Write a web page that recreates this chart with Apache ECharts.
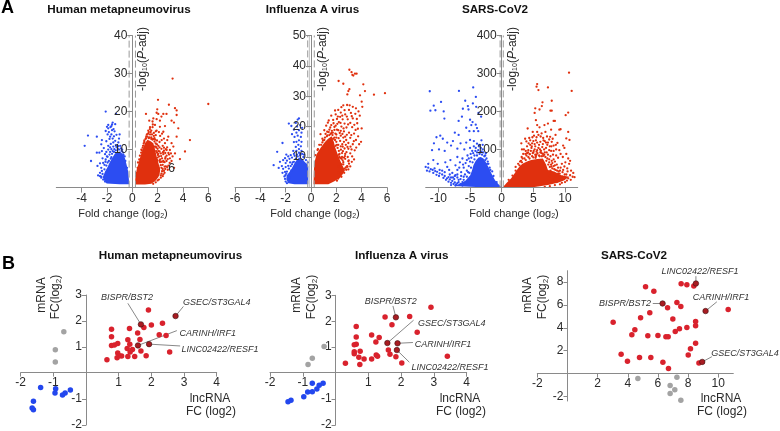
<!DOCTYPE html>
<html><head><meta charset="utf-8">
<style>html,body{margin:0;padding:0;background:#fff}#c{width:780px;height:431px}</style>
<script src="https://cdn.jsdelivr.net/npm/echarts@6/dist/echarts.min.js"></script>
</head><body><div id="c"></div>
<script>
// ---- Panel A: volcano data, read by eye. "Core" = outline of the solid-filled dense area.
const hmpvRedCore=[[0.21,0.8],[0.24,2.5],[0.34,4.6],[0.5,6.5],[0.6,7.7],[0.8,9.8],[1.0,11.7],[1.2,12.6],[1.45,12.2],[1.66,11.7],[1.8,10],[1.92,8.2],[2.1,6],[2.2,4.6],[2.15,3.4],[2.05,2.7],[1.8,1.7],[1.5,1.0],[1.0,0.8]];
const hmpvRedPts=[[6.0,22.0],[3.18,28.7],[2.03,23.1],[2.89,21.8],[3.37,20.9],[3.5,20.3],[3.5,19.1],[1.08,19.4],[1.97,20.6],[1.92,19.7],[2.05,19.4],[2.45,19.4],[2.7,19.4],[2.3,18.7],[1.66,18.2],[1.34,17.6],[1.6,17.4],[1.92,18],[2.18,17.6],[3.1,17.6],[3.29,17.1],[2.58,16.2],[3.63,15.6],[2.18,16],[1.79,16.5],[1.39,15.4],[1.92,15],[1.26,15],[2.45,14.7],[4.55,12.5],[4.16,9.5],[3.76,7.5],[3.37,9],[3.18,8.2],[2.97,7.7],[3.5,13.4],[2.84,13.4],[2.76,12.5],[3.1,11.7],[3.24,10.8],[2.32,12.5],[2.58,11.7],[2.71,9.9],[2.97,9.9],[2.45,8.8],[2.71,8.4],[3.1,7],[2.3,10.2],[2.05,11],[2.2,13.6],[1.85,13.8],[1.6,15.9],[1.45,14.6],[2.1,14.6],[2.55,6.7],[2.85,5.8],[2.4,6],[2.6,4.9],[2.2,7.4],[2.05,9.6],[2.35,7.7],[2.95,6.5],[2.6,7.6],[3.3,5.2],[2.8,4.7],[2.35,4.3],[2.05,5.6],[1.75,13],[1.3,13],[1.5,13.2],[1.15,14],[1.7,14.4],[1.95,12.4],[2.15,12],[2.4,11],[2.75,10.6],[1.85,10.8],[1.95,9.2],[2.25,9],[2.5,9.7],[2.15,10.6],[1.08,13],[1.25,14.2],[0.95,12.4],[1.95,6.7],[2.3,5.2],[2.55,3.9],[2.0,7.9],[2.65,5.6],[2.45,3.5],[2.25,3.2],[2.9,8.7],[3.05,9],[1.65,12.8],[1.55,14],[1.85,14.8],[2.5,12.9],[2.35,14.2],[0.75,9.8],[0.6,8.4],[0.45,6.6],[0.32,3.8],[0.85,11],[1.4,15.9],[1.62,16.6]];
const hmpvRedEdge=[[0.3,3],[0.42,5.2],[0.55,7.4],[0.7,9.2],[0.82,10.5],[0.95,12],[1.05,12.8],[1.2,13.4],[1.35,13.2],[1.5,12.8],[1.6,12.6],[1.75,12.1],[1.85,11.6],[1.9,10.5],[2,10.2],[2.02,8.6],[2.12,8.2],[2.2,6.7],[2.32,6.8],[2.3,3.7],[2.4,4.9],[2.25,2.6],[2.1,2.1],[2,1.9],[1.85,1.4],[1.65,1],[2.45,7],[2.15,9.5],[1.95,11.4],[1.7,13.6],[1.4,14],[1.1,13.5],[2.6,9.1],[2.85,9.1],[2.5,10.5],[2.65,10.1],[2.45,6.8],[2.7,7],[2.55,5.5],[2.75,5.4],[2.4,3],[2.5,4.4],[1.8,12.6],[2.05,8.9],[2.15,7],[2.25,5.9],[2.1,5.1],[1.98,7.2],[1.88,9.6],[1.75,10.8],[2.28,8.3],[2.42,9.3],[2.62,8],[2.8,7.5],[1.5,15],[1.3,14.6],[0.9,11.6],[0.72,10]];
const hmpvBlueCore=[[-0.24,0.9],[-0.28,2.5],[-0.32,4.2],[-0.45,6],[-0.58,7.7],[-0.75,8.8],[-0.97,9.5],[-1.2,9.3],[-1.37,9],[-1.55,8],[-1.76,6.8],[-1.95,5.4],[-2.16,4.2],[-2.25,3.4],[-2.34,2.7],[-2.2,1.8],[-2.03,1.1],[-1.0,0.9]];
const hmpvBluePts=[[-2.1,20],[-1.29,19.4],[-1.55,17.1],[-1.9,16.5],[-1.6,16.6],[-1.9,15.6],[-1.72,15.9],[-3.5,13.7],[-3.76,11],[-3.26,7],[-2.8,13.4],[-2.8,9.2],[-2.6,9.2],[-2.4,12.5],[-2.45,11.4],[-2.1,14.9],[-1.85,14.6],[-1.65,14],[-1.45,13.5],[-1.25,13.9],[-1.0,14],[-1.55,12.9],[-1.8,12.8],[-2.05,12.2],[-1.35,12.3],[-1.1,11.9],[-1.7,11.5],[-1.9,11],[-2.25,10.4],[-2.4,9.6],[-1.5,10.8],[-1.25,10.7],[-1.9,10],[-1.65,10.1],[-2.15,8.8],[-2.35,7.7],[-2.1,7.4],[-2.55,6.4],[-2.75,5.7],[-2.45,5.2],[-2.3,6.5],[-2.0,8.2],[-1.8,8.7],[-1.55,9.6],[-1.95,6.6],[-2.55,3.9],[-2.7,3.2],[-2.45,2.9],[-1.4,14.8],[-1.6,15.1],[-1.75,13.4],[-1.15,10.2],[-2.05,9.4],[-1.65,16.2],[-1.48,15.4],[-1.35,16.7],[-2.0,16],[-1.95,14],[-0.9,10.3],[-0.6,8.2]];
const hmpvBlueEdge=[[-0.42,5.2],[-0.55,7],[-0.7,8.6],[-0.85,9.6],[-1.05,10],[-1.3,9.8],[-1.45,9.4],[-1.65,8],[-1.85,7],[-2.05,5.8],[-2.2,4.8],[-2.35,3.6],[-2.45,2.6],[-2.3,2.1],[-2.15,1.6],[-1.7,7.6],[-1.42,10.1],[-1.1,10.9],[-1.75,9.4],[-1.95,8.1],[-2.2,6],[-2.4,4.4],[-2.55,3],[-2.12,6.8],[-1.6,8.9],[-1.3,11.2],[-1.05,12.9],[-1.5,11.9],[-1.75,10.6],[-0.8,10],[-0.95,11],[-0.72,9.2]];

const fluRedCore=[[0.2,1],[0.22,4],[0.24,6.7],[0.32,9],[0.45,11],[0.75,13],[1.1,14.9],[1.35,16],[1.63,16.8],[1.8,15],[1.9,13.3],[2.1,11],[2.29,8.9],[2.5,7],[2.68,5.6],[2.5,4.3],[2.29,3.2],[1.85,2],[1.37,1]];
const fluRedPts=[[3.03,38.7],[3.2,37.9],[3.6,37.4],[3.34,36.8],[3.47,37.4],[3.27,37],[2.18,35],[2.55,34.1],[4.13,33.9],[3.03,32.3],[2.95,31.7],[4.26,31.7],[2.87,30.6],[5.84,31],[4.97,30.5],[3.87,30.3],[4.0,28.2],[2.55,27],[2.4,26.4],[2.85,27.1],[3.05,27],[3.3,26.5],[3.55,26],[2.15,25.5],[1.9,25.3],[2.65,25.4],[3.0,25.5],[4.05,26.5],[3.75,25],[1.6,23.6],[1.95,24],[2.35,24.6],[2.7,24],[3.15,24.5],[3.5,24.2],[3.85,23.6],[2.3,23.2],[2.05,22.5],[2.5,22.4],[2.9,22.4],[3.3,22.7],[1.4,22],[1.75,22.2],[2.2,21.5],[2.65,21],[3.1,21.2],[3.65,21.1],[4.0,19.4],[1.2,20.3],[1.6,20.5],[1.95,20.3],[2.4,20],[2.8,19.7],[3.25,19.8],[3.7,19.3],[1.05,18.8],[1.45,19],[1.85,18.9],[2.15,18.8],[2.6,18.4],[3.0,18],[3.4,17.7],[0.75,17.5],[0.9,16],[2.0,17.4],[2.35,17],[2.7,16.7],[3.1,16.3],[3.55,15.6],[3.95,15],[3.8,14.2],[2.3,15.3],[2.6,15],[2.95,14.6],[3.3,14.2],[2.35,13.5],[2.65,12.8],[2.95,12.7],[3.2,12.5],[3.45,12.2],[3.1,11.2],[3.25,10.2],[2.7,11],[2.45,11.3],[2.9,10],[3.4,9.2],[2.7,9.4],[2.55,8.3],[3.0,7.8],[2.45,10],[2.2,12],[2.05,14],[1.9,15.6],[1.55,17.6],[1.3,17.1],[1.72,18],[2.25,10],[2.75,6.6],[2.4,6.1],[2.15,5],[0.52,12.3],[0.65,14],[0.95,15.4]];
const fluRedEdge=[[0.35,10.6],[0.55,12.6],[0.8,14],[1.05,15.6],[1.25,16.8],[1.45,17.2],[1.7,17.2],[1.85,16.4],[2,15],[2.1,13],[2.25,11],[2.42,9.4],[2.55,7.6],[2.78,5.8],[2.62,4.8],[2.4,3.5],[2.05,2.2],[2.15,2.9],[2.3,4.5],[2.2,6.8],[2.65,6.2],[2.5,8.9],[2.36,12.4],[2.15,14],[1.65,18.6],[1.4,18.2],[1.15,17.6],[2.18,16.2],[2.5,13.4],[2.8,11.6],[2.95,8.6],[2.85,7],[2.6,9.8],[2.0,16.4],[1.75,16],[1.95,13.7],[2.2,10.7],[2.42,7.6],[2.95,5.9],[3.1,6.9],[1.85,19.9],[2.05,19],[2.35,18.6],[2.55,16.4],[2.75,14],[0.9,14.8],[1.1,16.4],[1.33,21.3],[1.52,19.7],[1.78,21.1],[2.12,23.3],[2.47,23.6],[2.83,23.3],[3.22,23.4],[3.62,22.5],[2.08,20.9],[2.33,21.2],[2.57,19.4],[2.93,20.7],[3.42,20.6],[3.52,18.9],[1.28,18.3],[1.62,17.9],[1.92,17.7],[2.27,17.9],[2.48,17.6],[2.83,17.3],[3.18,17.2],[3.72,16.8],[3.38,15.2],[2.78,15.6],[2.47,14.2],[3.12,13.4],[2.88,13.3],[2.52,11.9],[3.57,13.1],[2.68,10.3],[2.98,8.9],[3.22,8.4],[2.33,9.6],[2.88,6.8]];
const fluBlueCore=[[-0.21,1],[-0.21,4],[-0.21,6.9],[-0.3,7.7],[-0.47,8.3],[-0.7,9.4],[-0.92,9.8],[-1.1,9.2],[-1.26,8.3],[-1.4,7.2],[-1.53,6.1],[-1.7,5.1],[-1.92,3.9],[-1.95,2.6],[-1.8,1.4],[-1.3,1]];
const fluBluePts=[[-0.95,22.7],[-1.05,22.3],[-1.2,21.2],[-1.75,21],[-0.85,20.5],[-1.55,20.2],[-1.1,20],[-0.7,19.6],[-1.35,19],[-0.95,18.8],[-1.15,18],[-0.75,18],[-1.5,17.5],[-1.05,17],[-0.8,16.6],[-1.3,16.6],[-2.25,14.6],[-0.95,15.5],[-1.15,15],[-0.75,15],[-1.35,14.9],[-1.0,14],[-0.8,13.5],[-1.2,13.3],[-2.67,11.7],[-0.95,12.6],[-1.15,12],[-0.75,12],[-1.4,12],[-1.35,11],[-0.85,11],[-1.6,10.6],[-1.8,10.2],[-1.95,10.8],[-2.05,9.6],[-1.7,9.4],[-1.5,9.8],[-1.9,8.8],[-2.0,8],[-2.2,9],[-2.45,8.4],[-2.95,7.3],[-2.3,7],[-2.55,6.4],[-2.2,6.1],[-2.0,6.7],[-1.8,7.1],[-1.65,8.2],[-1.5,7.6],[-2.05,5.1],[-2.25,4.8],[-1.95,4.5],[-2.1,3.6],[-1.3,10.4],[-1.1,10.8]];
const fluBlueEdge=[[-0.25,8.2],[-0.4,9],[-0.6,10],[-0.85,10.5],[-1.05,10.2],[-1.2,9.4],[-1.35,8.4],[-1.45,8.2],[-1.6,7],[-1.75,6.2],[-1.9,5.2],[-2.02,4],[-2.05,2.8],[-2.0,1.9],[-1.9,1.4],[-0.55,10.8],[-0.7,11],[-0.95,11.4],[-1.55,5.6],[-1.7,3.2]];

const sarsRedCore=[[0.15,0],[0.8,12],[1.5,24],[2,36],[2.56,50],[3,58],[3.35,63],[4,68],[4.66,72],[5.6,75],[6.5,76],[7,60],[7.3,46],[8.3,42],[9.4,32],[10,30],[10.7,28],[10.2,23],[9.9,19],[9,13],[8,9],[7.3,6],[6,3],[4.66,0]];
const sarsRedPts=[[10.63,302],[11.05,254],[5.6,272],[5.5,265],[5.8,256],[7.3,263],[7.9,228],[6.44,224],[6.34,214],[5.97,205],[5.3,208],[5.2,196],[7.7,202],[7.9,202],[10.1,190],[10.5,197],[5.4,177],[5.6,164],[8.2,175],[8.4,175],[7.3,168],[4.1,155],[6.75,164],[4.9,146],[5.97,158],[7.8,152],[9.1,152],[9.3,153],[10.5,146],[10.2,129],[10.7,125],[3.1,116],[3.9,121],[4.35,130],[5.1,136],[5.6,146],[5.5,132],[6.3,142],[6.9,146],[7.15,134],[7.65,133],[8.5,138],[9.7,110],[9.9,104],[10.2,88],[10.5,76],[10.8,70],[10.65,62],[11.3,38],[11.2,28],[11.5,27],[10.95,44],[10.4,42],[9.9,55],[9.5,62],[8.9,78],[9.3,88],[8.6,100],[8.8,117],[8.2,110],[7.9,120],[7.5,126],[7,118],[6.6,124],[6.1,120],[5.6,118],[5.0,122],[4.5,112],[4.0,108],[3.5,100],[3.4,88],[4,90],[4.6,96],[5.2,100],[5.8,104],[6.4,106],[7,104],[7.6,108],[8.2,96],[8.6,84],[8.2,74],[7.7,82],[7.1,92],[6.5,88],[5.9,84],[5.3,86],[4.8,82],[4.2,80],[3.6,76],[3.05,70],[8,64],[8.7,60],[9.2,44],[7.5,74],[6.9,80],[5.5,94],[3.7,128],[4.5,124],[9.95,34],[10.3,18],[9.5,12],[8.7,14],[8.2,22],[7.6,30],[8.9,36],[2.6,62],[2.2,54],[6.1,92]];
const sarsRedEdge=[[1.1,20],[1.7,31],[2.2,44],[2.8,58],[3.2,66],[3.8,72],[4.4,76],[5.0,79],[5.4,82],[6.0,82],[6.6,83],[7.2,76],[7.5,66],[7.6,54],[8,50],[8.5,46],[9,42],[9.6,40],[10.2,34],[10.8,32],[10.5,24],[10,14],[9.2,8],[8.4,6],[7.6,3],[6.8,1],[4.4,88],[5,92],[5.6,98],[6.2,96],[6.8,92],[7.3,86],[7.9,70],[8.4,58],[9.3,52],[3.9,84],[3.3,76],[2.9,68],[4.7,104],[5.3,108],[5.9,112],[6.5,114],[7.2,112],[7.8,96],[8.1,86],[4.2,98],[3.8,96],[4.9,90],[5.5,86],[6.3,90],[6.7,100],[7.5,98],[8.4,68],[8.9,52],[8.2,56],[7.8,60],[9.7,46],[5.2,114],[6.8,122],[5.4,124],[4.8,116],[3.15,80],[3.75,88],[4.15,92],[4.45,87],[4.75,108],[5.05,96],[5.35,78],[5.65,90],[6.05,100],[6.35,82],[6.72,86],[7.05,70],[7.35,60],[7.85,55],[8.3,48],[8.75,44],[9.15,36],[9.55,28],[8.55,28],[7.95,38],[7.7,44],[6.55,130],[6.15,134],[7.3,118],[7.85,108],[8.55,112],[5.8,138],[4.85,132],[4.25,116],[3.2,100],[8.05,128],[9.1,98],[9.65,80],[10.05,66],[10.35,50],[10.9,20]];
const sarsBlueCore=[[0,0],[-0.5,8],[-1.05,19],[-1.6,36],[-2.1,54],[-2.5,66],[-2.88,76],[-3.3,80],[-3.66,79],[-4.1,70],[-4.45,59],[-4.7,44],[-4.97,32],[-5.7,18],[-6.5,10.5],[-7.6,4],[-5,2],[-3,0.5]];
const sarsBluePts=[[-11.36,253],[-6.75,254],[-4.5,263],[-4.08,238],[-9.58,225],[-5.76,228],[-10.73,215],[-11.26,202],[-10.47,203],[-9.16,200],[-9.05,181],[-5.34,214],[-6.13,207],[-5.24,205],[-4.55,221],[-4.03,212],[-3.66,196],[-3.25,186],[-6.28,186],[-6.8,175],[-5,178],[-4.6,172],[-4.8,164],[-4.1,165],[-3.9,156],[-5.6,157],[-5.1,148],[-4.4,148],[-3.7,148],[-9.7,136],[-10.3,132],[-9.3,128],[-7.4,144],[-6.8,138],[-8.6,118],[-10.7,116],[-7.7,122],[-6.5,116],[-5.6,118],[-5,125],[-4.4,122],[-3.2,124],[-3.6,108],[-4.4,108],[-5,104],[-5.9,100],[-7,102],[-8,110],[-11,98],[-9.9,100],[-9,96],[-3.0,100],[-2.6,84],[-3.9,92],[-4.9,88],[-5.4,84],[-6.2,76],[-7,80],[-8.1,72],[-8.9,66],[-10.1,62],[-10.8,72],[-11.6,62],[-12,54],[-11.6,52],[-11.2,48],[-10.9,46],[-10.5,43],[-10.2,41],[-9.8,37],[-9.4,34],[-9,30],[-8.64,24],[-8.2,21],[-7.8,17],[-7.4,13],[-7,11],[-6.5,9],[-8.4,27],[-8,26],[-7.5,22],[-7,26],[-6.5,22],[-6,28],[-6.4,40],[-7,46],[-7.8,38],[-6,52],[-5.5,44],[-5.2,56],[-5.7,64],[-5,68],[-4.8,78],[-4.3,84],[-3.4,92],[-9.4,44],[-8.6,54],[-2.2,68],[-1.9,52],[-3.9,115]];
const sarsBlueEdge=[[-0.8,14],[-1.3,30],[-1.8,46],[-2.3,62],[-2.6,72],[-2.75,82],[-3.1,86],[-3.5,88],[-3.9,84],[-4.3,74],[-4.6,66],[-4.85,52],[-5.1,38],[-5.5,28],[-6,20],[-6.8,14],[-7.2,8],[-8,6],[-7.3,5],[-6.2,5],[-3.2,94],[-3.7,98],[-3.3,104],[-2.9,92],[-4.15,96],[-3.55,112],[-4.1,104],[-4.65,96],[-2.4,76],[-2.1,62],[-1.5,42],[-5.3,40],[-5.8,34],[-6.4,30],[-7.3,32],[-7.7,26],[-11.8,44],[-11.4,42],[-10.8,38],[-10.3,33],[-9.9,30],[-9.2,25],[-8.8,20],[-8.4,15],[-8.0,12],[-7.6,9],[-10.6,50],[-9.8,46],[-9.0,40],[-8.2,34],[-7.4,30],[-6.8,20],[-6.2,14],[-5.8,10],[-5.4,14],[-7.0,34],[-6.7,52],[-6.1,60],[-7.3,58],[-8.3,46],[-5.5,72],[-6.6,66],[-4.5,90],[-5.2,76],[-3.0,112],[-2.5,90]];

const hmpvBiRed=[[0.64,0.51],[0.78,1.68],[0.78,1.39],[0.78,1.06],[0.87,1.08],[0.97,1.13],[0.97,0.77],[0.95,0.59],[1.02,0.66],[1.09,0.65],[1.28,1.28],[1.34,1.11],[1.33,1.71],[1.26,0.94],[1.42,0.90],[1.35,0.81],[1.28,0.63],[1.49,0.63],[1.58,1.54],[1.65,1.29],[1.68,0.85],[1.84,0.66],[1.91,2.42],[2.0,1.85],[1.77,1.75],[2.24,1.47],[2.34,1.91],[2.45,1.44],[2.56,0.81]];
const hmpvBiDark=[[1.68,1.87],[2.74,2.19],[1.59,1.06],[1.93,1.11]];
const hmpvBiGray=[[-0.68,1.59],[-0.94,0.89],[-0.94,0.42]];
const hmpvBiBlue=[[-1.39,-0.56],[-0.93,-0.61],[-0.95,-0.77],[-0.72,-0.85],[-0.64,-0.77],[-0.48,-0.65],[-1.61,-1.09],[-1.65,-1.35],[-1.61,-1.41]];
const fluBiRed=[[0.30,0.38],[0.63,1.80],[0.63,1.39],[0.63,1.11],[0.57,1.09],[0.57,0.82],[0.57,0.75],[0.75,0.84],[0.71,0.61],[0.74,0.33],[0.87,0.54],[1.10,1.47],[1.10,0.54],[1.23,1.20],[1.33,1.37],[1.24,0.70],[1.28,0.65],[1.51,2.16],[1.61,0.89],[1.66,0.73],[1.72,1.86],[1.84,0.63],[2.02,0.39],[2.26,2.18],[2.49,1.58],[2.91,2.54],[3.41,0.65]];
const fluBiDark=[[1.84,2.15],[1.58,1.16],[1.89,1.15],[1.87,0.89]];
const fluBiGray=[[-0.35,1.03],[-0.71,0.57],[-0.84,0.33]];
const fluBiBlue=[[-0.71,-0.39],[-0.38,-0.39],[-0.5,-0.47],[-0.57,-0.61],[-0.71,-0.72],[-0.85,-0.73],[-0.97,-0.91],[-1.36,-1.05],[-1.45,-1.10]];
const sarsBiRed=[[3.03,4.48],[3.56,1.69],[3.98,1.08],[4.27,3.40],[4.47,3.84],[4.78,1.40],[4.85,4.88],[5.18,7.59],[5.33,3.31],[5.46,5.32],[5.53,1.40],[5.73,7.21],[6.0,3.34],[6.33,0.99],[6.53,3.23],[6.68,3.23],[6.64,5.76],[6.70,0.44],[6.99,4.77],[7.15,3.69],[7.26,6.22],[7.43,3.92],[7.52,5.87],[7.54,7.85],[7.92,7.76],[7.92,4.04],[8.01,1.63],[8.16,2.18],[8.38,7.67],[8.50,4.56],[8.50,4.19],[8.50,2.65],[8.72,0.93],[10.66,5.61]];
const sarsBiDark=[[6.31,6.13],[8.52,7.88],[8.94,1.02],[9.16,5.47]];
const sarsBiGray=[[4.67,-0.44],[7.26,-0.32],[6.81,-1.05],[7.12,-1.42],[6.81,-1.74],[7.52,-2.33]];
const hmpvLinks=[[[1.28,2.68],[1.68,1.87]],[[2.98,2.56],[2.74,2.19]],[[2.78,1.63],[1.59,1.06]],[[2.88,1.04],[1.93,1.11]]];
const fluLinks=[[[1.75,2.59],[1.84,2.15]],[[2.38,2.04],[1.58,1.16]],[[2.36,1.18],[1.89,1.15]],[[2.25,0.42],[1.87,0.89]]];
const sarsLinks=[[[8.52,8.52],[8.52,7.88]],[[5.66,6.13],[6.31,6.13]],[[9.91,6.28],[9.16,5.47]],[[9.58,1.48],[8.94,1.02]]];

const RED='#e0300e',BLUE='#2c4df2',AXIS='#8a8a8a',TXT='#2a2a2a',FONT='"Liberation Sans",Arial,sans-serif';
const grids=[],xAxes=[],yAxes=[],series=[],graphic=[];

function addAxes(rect,xr,yr,xt,yt,tickLen,labelGap,fs){
  const i=grids.length;
  grids.push(rect);
  const xShift=-(0-xr[0])/(xr[1]-xr[0])*rect.width;
  const yShift=-(0-yr[0])/(yr[1]-yr[0])*rect.height;
  const base={z:5,axisLine:{onZero:false,lineStyle:{color:AXIS,width:1}},splitLine:{show:false},
    axisLabel:{color:TXT,fontFamily:FONT,fontSize:fs,margin:labelGap,hideOverlap:false}};
  xAxes.push({...base,type:'value',gridIndex:i,min:xr[0],max:xr[1],position:'bottom',offset:yShift,
    axisTick:{length:tickLen,lineStyle:{color:AXIS},customValues:xt},
    axisLabel:{...base.axisLabel,customValues:xt}});
  yAxes.push({...base,type:'value',gridIndex:i,min:yr[0],max:yr[1],position:'left',offset:xShift,
    axisTick:{length:tickLen,lineStyle:{color:AXIS},customValues:yt},
    axisLabel:{...base.axisLabel,customValues:yt}});
  return i;
}
function poly(i,core,color){
  series.push({type:'custom',xAxisIndex:i,yAxisIndex:i,data:[[0]],silent:true,z:2,clip:false,
    renderItem:(p,api)=>({type:'polygon',shape:{points:core.map(c=>api.coord(c))},style:{fill:color}})});
}
function dots(i,data,color,size,z,border){
  series.push({type:'scatter',xAxisIndex:i,yAxisIndex:i,data,symbolSize:size,z:z||3,silent:true,clip:false,
    itemStyle:{color,opacity:1,borderColor:border||color,borderWidth:border?0.6:0}});
}
function vline(i,x,y0,y1,color,dash,w){
  series.push({type:'line',xAxisIndex:i,yAxisIndex:i,data:[[x,y0],[x,y1]],showSymbol:false,silent:true,z:4,
    lineStyle:{color,width:w||1,type:dash?[7,3]:'solid'}});
}
function text(t,x,y,o){
  graphic.push({type:'text',x,y,rotation:o.rot||0,z:20,silent:true,
    style:{text:t,fill:o.fill||TXT,font:o.font||('12px '+FONT),align:o.align||'center',verticalAlign:'middle',rich:o.rich}});
}
const foldRich={a:{font:'11px '+FONT,fill:TXT},s:{font:'7px '+FONT,fill:TXT,verticalAlign:'bottom',padding:[5,0,0,0]}};
const logRich={a:{font:'12px '+FONT,fill:TXT},i:{font:'italic 12px '+FONT,fill:TXT},s:{font:'7px '+FONT,fill:TXT,verticalAlign:'bottom',padding:[5,0,0,0]}};
const fcRich={a:{font:'12px '+FONT,fill:TXT},s:{font:'8px '+FONT,fill:TXT,verticalAlign:'bottom',padding:[6,0,0,0]}};

function volcano(cfg){
  const [x0,x1,y0,y1]=cfg.px;
  const i=addAxes({left:x0,width:x1-x0,top:y1,height:y0-y1},cfg.xr,cfg.yr,cfg.xt,cfg.yt,5,5,12);
  poly(i,cfg.redCore,RED);poly(i,cfg.blueCore,BLUE);
  dots(i,[...cfg.redPts,...cfg.redEdge],RED,2.3);dots(i,[...cfg.bluePts,...cfg.blueEdge],BLUE,2.3);
  vline(i,-cfg.dash,cfg.yr[0],cfg.yr[1],'#9a9a9a',true);
  vline(i,cfg.dash,cfg.yr[0],cfg.yr[1],'#9a9a9a',true);
  if(cfg.extra!=null)vline(i,cfg.extra,cfg.yr[0],cfg.yr[1],'#c0c0c0',false);
  text(cfg.title,cfg.tx,10,{font:'bold 11.7px '+FONT,fill:'#111'});
  text('{a|Fold change (log}{s|2}{a|)}',cfg.fx,214,{rich:foldRich});
  text('{a|-log}{s|10}{a|(}{i|P}{a|-adj)}',cfg.lx,59,{rot:Math.PI/2,rich:logRich});
}
volcano({px:[56.3,208.3,187.6,35.6],xr:[-6,6],yr:[0,40],xt:[-4,-2,0,2,4,6],yt:[10,20,30,40],dash:0.25,
  redCore:hmpvRedCore,redPts:hmpvRedPts,redEdge:hmpvRedEdge,blueCore:hmpvBlueCore,bluePts:hmpvBluePts,blueEdge:hmpvBlueEdge,
  title:'Human metapneumovirus',tx:119,fx:123,lx:143});
volcano({px:[235,387,187.4,35.4],xr:[-6,6],yr:[0,50],xt:[-6,-4,-2,0,2,4,6],yt:[10,20,30,40,50],dash:0.26,extra:-0.13,
  redCore:fluRedCore,redPts:fluRedPts,redEdge:fluRedEdge,blueCore:fluBlueCore,bluePts:fluBluePts,blueEdge:fluBlueEdge,
  title:'Influenza A virus',tx:312.5,fx:315,lx:323});
volcano({px:[425.7,577.7,187.4,35.4],xr:[-12,12],yr:[0,400],xt:[-10,-5,0,5,10],yt:[100,200,300,400],dash:0.25,
  redCore:sarsRedCore,redPts:sarsRedPts,redEdge:sarsRedEdge,blueCore:sarsBlueCore,bluePts:sarsBluePts,blueEdge:sarsBlueEdge,
  title:'SARS-CoV2',tx:495,fx:514,lx:512.3});
text('6',171.7,169,{font:'12px '+FONT});
text('A',1,8,{font:'bold 18px '+FONT,fill:'#000',align:'left'});
text('B',2,264,{font:'bold 18px '+FONT,fill:'#000',align:'left'});

function duo(cfg){
  const [x0,x1,y0,y1]=cfg.px;
  const i=addAxes({left:x0,width:x1-x0,top:y1,height:y0-y1},cfg.xr,cfg.yr,cfg.xt,cfg.yt,4,4,12);
  if(cfg.gray)dots(i,cfg.gray,'#a3a3a3',5.5);
  if(cfg.blue)dots(i,cfg.blue,'#2347ee',5.5);
  dots(i,cfg.red,'#d9222d',5.5);
  cfg.links.forEach(l=>series.push({type:'line',xAxisIndex:i,yAxisIndex:i,data:l,showSymbol:false,silent:true,z:3,
    lineStyle:{color:'#555',width:0.7}}));
  dots(i,cfg.dark,'#a81c22',5.5,4,'#3a1010');
  text(cfg.title,cfg.tx,256,{font:'bold 11.7px '+FONT,fill:'#111'});
  text('mRNA',cfg.m[0],295,{rot:Math.PI/2,font:'12px '+FONT});
  text('{a|FC(log}{s|2}{a|)}',cfg.m[1],297,{rot:Math.PI/2,rich:fcRich});
  text('lncRNA',cfg.l,399,{font:'12px '+FONT});
  text('FC (log2)',cfg.l+1,412,{font:'12px '+FONT});
  cfg.genes.forEach(g=>text(g[0],g[1],g[2],{font:'italic 9px '+FONT,fill:'#333'}));
}
duo({px:[20.7,216.7,426,295],xr:[-2,4],yr:[-2,3],xt:[-2,-1,1,2,3,4],yt:[-2,-1,1,2,3],
  red:hmpvBiRed,dark:hmpvBiDark,gray:hmpvBiGray,blue:hmpvBiBlue,links:hmpvLinks,
  title:'Human metapneumovirus',tx:170.5,m:[42,56],l:210,
  genes:[['BISPR/BST2',127,297.7],['GSEC/ST3GAL4',216.7,302.7],['CARINH/IRF1',207.7,333],['LINC02422/RESF1',220,349]]});
duo({px:[270,466.7,426,295.3],xr:[-2,4],yr:[-2,3],xt:[-2,-1,1,2,3,4],yt:[-2,-1,1,2,3],
  red:fluBiRed,dark:fluBiDark,gray:fluBiGray,blue:fluBiBlue,links:fluLinks,
  title:'Influenza A virus',tx:401.7,m:[297,311.7],l:460,
  genes:[['BISPR/BST2',390.7,301],['GSEC/ST3GAL4',451.7,323],['CARINH/IRF1',443,344.7],['LINC02422/RESF1',450,367]]});
duo({px:[537.3,733.3,401,270.7],xr:[-2,11],yr:[-2.4,9],xt:[-2,2,4,6,8,10],yt:[-2,2,4,6,8],
  red:sarsBiRed,dark:sarsBiDark,gray:sarsBiGray,links:sarsLinks,
  title:'SARS-CoV2',tx:634,m:[528,542.7],l:721,
  genes:[['LINC02422/RESF1',700,271.7],['BISPR/BST2',625,303.3],['CARINH/IRF1',721,297.7],['GSEC/ST3GAL4',745,353]]});

const chart=echarts.init(document.getElementById('c'),null,{renderer:'canvas'});
chart.setOption({animation:false,backgroundColor:'#fff',grid:grids,xAxis:xAxes,yAxis:yAxes,series,graphic});
</script></body></html>
